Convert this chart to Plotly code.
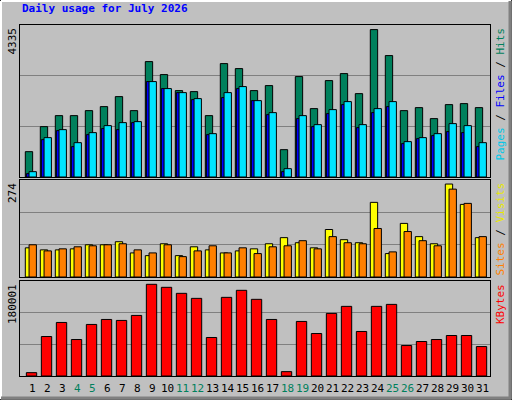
import plotly.graph_objects as go

days = list(range(1, 32))
day_labels = [str(d) for d in days]
weekend = [4, 5, 11, 12, 18, 19, 25, 26]
hits = [745,1481,1805,1805,1952,2070,2364,1952,3394,3012,2541,2511,1805,3335,3188,2541,2688,804,2953,2011,2835,3041,2452,4335,3571,1952,2040,1717,2129,2158,2040]
files = [98,1099,1364,893,1246,1423,1393,1599,2806,2600,2482,2276,1246,2335,2600,2246,1834,157,1717,1481,1864,2129,1452,1893,2070,981,1128,1216,1334,1305,893]
pages = [157,1158,1393,1010,1305,1511,1599,1628,2806,2600,2482,2305,1275,2482,2659,2246,1893,245,1805,1540,1982,2217,1540,2011,2217,1040,1158,1275,1570,1511,1010]
sites = [86,80,80,83,95,95,104,71,63,98,63,89,80,71,77,83,98,116,101,86,140,110,101,220,69,158,119,98,274,214,116]
visits = [95,77,83,89,92,95,98,80,71,95,60,77,92,71,86,69,89,92,107,83,119,101,98,143,74,134,107,92,259,217,119]
kbytes = [6570,77500,105100,71600,101200,111000,109100,118900,180001,174100,162300,152400,75600,154400,168200,150500,111000,8540,107100,83400,122900,136700,87400,136700,140600,59800,67700,71600,79500,79500,57800]
title = "Daily usage for July 2026"

W, H = 512, 400
def py(p):
    return 1 - p / H

fig = go.Figure()
line = dict(color="black", width=1)

def bar(y, off, w, color, xa, ya):
    fig.add_trace(go.Bar(x=days, y=y, offset=off, width=w, marker=dict(color=color, line=line),
                         xaxis=xa, yaxis=ya, showlegend=False, hoverinfo="skip"))

bar(hits, 0.02, 0.49, "#00805C", "x", "y")
bar(files, 0.09, 0.22, "#0000FF", "x", "y")
bar(pages, 0.27, 0.49, "#00E4FF", "x", "y")
bar(sites, 0.02, 0.49, "#FFFF00", "x2", "y2")
bar(visits, 0.27, 0.49, "#FF8000", "x2", "y2")
bar(kbytes, 0.09, 0.69, "#FF0000", "x3", "y3")

xr = [0.667, 32.0]
xdom = [20 / W, 490 / W]
panels = [(25, 177, max(hits) * 152 / 147.4), (180, 277, max(sites) * 96 / 92), (281, 376, max(kbytes) * 94.7 / 91.4)]
for i, (top, bot, rmax) in enumerate(panels):
    sx = "" if i == 0 else str(i + 1)
    fig.layout["xaxis" + sx] = dict(domain=xdom, range=xr, showticklabels=False, showgrid=False,
                                    zeroline=False, showline=True, linecolor="black", mirror=True,
                                    anchor="y" + sx, fixedrange=True)
    fig.layout["yaxis" + sx] = dict(domain=[py(bot), py(top)], range=[0, rmax], showticklabels=False,
                                    tickvals=[rmax / 3, 2 * rmax / 3], gridcolor="#808080", gridwidth=1,
                                    zeroline=False, showline=True, linecolor="black", mirror=True,
                                    anchor="x" + sx, fixedrange=True)

mono = "DejaVu Sans Mono"
ann = []
ann.append(dict(x=20 / W, y=py(9), xref="paper", yref="paper", xanchor="left", yanchor="middle",
                text="<b>" + title + "</b>", showarrow=False, font=dict(family=mono, size=11, color="#0000FF")))
for txt, top in [(str(max(hits)), 26), (str(max(sites)), 181), (str(max(kbytes)), 282)]:
    ann.append(dict(x=12 / W, y=py(top), xref="paper", yref="paper", xanchor="center", yanchor="top",
                    text=txt, textangle=-90, showarrow=False, font=dict(family=mono, size=11, color="black")))
ann.append(dict(x=500 / W, y=py(26), xref="paper", yref="paper", xanchor="center", yanchor="top", textangle=-90,
                text="<span style='color:#00C8E8'>Pages</span><span style='color:#000000'> / </span>"
                     "<span style='color:#0000FF'>Files</span><span style='color:#000000'> / </span>"
                     "<span style='color:#00805C'>Hits</span>", showarrow=False, font=dict(family=mono, size=11)))
ann.append(dict(x=500 / W, y=py(181), xref="paper", yref="paper", xanchor="center", yanchor="top", textangle=-90,
                text="<span style='color:#FF8000'>Sites</span><span style='color:#000000'> / </span>"
                     "<span style='color:#E8E800'>Visits</span>", showarrow=False, font=dict(family=mono, size=11)))
ann.append(dict(x=500 / W, y=py(282), xref="paper", yref="paper", xanchor="center", yanchor="top", textangle=-90,
                text="KBytes", showarrow=False, font=dict(family=mono, size=11, color="#FF0000")))
for d, lab in zip(days, day_labels):
    ann.append(dict(x=d + 0.5, y=py(388), xref="x3", yref="paper", xanchor="center", yanchor="middle",
                    text=lab, showarrow=False,
                    font=dict(family=mono, size=11, color="#00805C" if d in weekend else "black")))

shapes = [
    dict(type="rect", xref="paper", yref="paper", x0=0, y0=0, x1=1, y1=1, line=dict(color="black", width=1), layer="below"),
    dict(type="line", xref="paper", yref="paper", x0=1 / W, y0=py(1), x1=1 - 1 / W, y1=py(1), line=dict(color="white", width=2)),
    dict(type="line", xref="paper", yref="paper", x0=1 / W, y0=py(1), x1=1 / W, y1=py(H - 1), line=dict(color="white", width=2)),
    dict(type="line", xref="paper", yref="paper", x0=1 / W, y0=py(H - 2), x1=1 - 1 / W, y1=py(H - 2), line=dict(color="#808080", width=3)),
    dict(type="line", xref="paper", yref="paper", x0=1 - 2 / W, y0=py(1), x1=1 - 2 / W, y1=py(H - 1), line=dict(color="#808080", width=3)),
]

fig.update_layout(width=W, height=H, autosize=False, margin=dict(l=0, r=0, t=0, b=0),
                  paper_bgcolor="#C0C0C0", plot_bgcolor="#C0C0C0", barmode="overlay",
                  annotations=ann, shapes=shapes, showlegend=False)
fig.write_html("out.html", config={"displayModeBar": False},
               post_script="document.body.style.margin='0';document.body.style.padding='0';document.body.style.overflow='hidden';")
